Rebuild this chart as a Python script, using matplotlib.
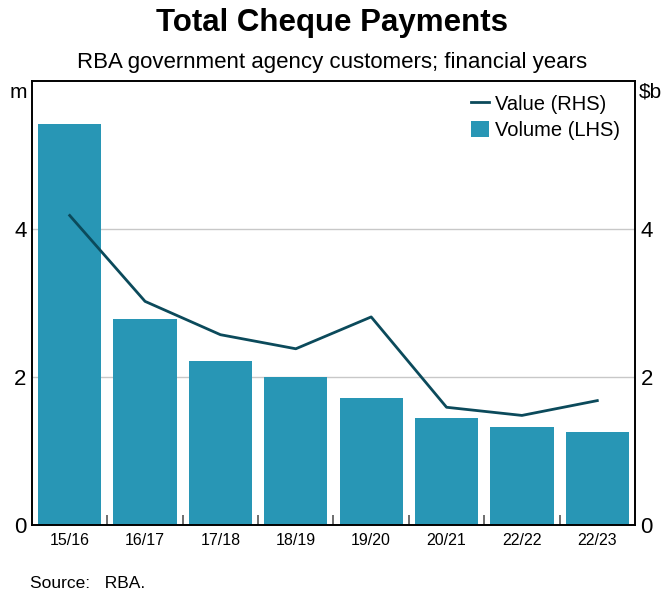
import matplotlib

matplotlib.use("Agg")
import matplotlib.pyplot as plt
from matplotlib.lines import Line2D
from matplotlib.patches import Patch

plt.rcParams["font.family"] = ["Liberation Sans", "DejaVu Sans"]

# data
years = ["15/16", "16/17", "17/18", "18/19", "19/20", "20/21", "22/22", "22/23"]
volume_m = [5.41, 2.78, 2.22, 2.00, 1.72, 1.45, 1.32, 1.26]
value_b = [4.18, 3.02, 2.57, 2.38, 2.81, 1.59, 1.48, 1.68]
y_ticks = [0, 2, 4]

bar_color = "#2896B5"
line_color = "#0B4A5B"
grid_color = "#C8C8C8"

fig = plt.figure(figsize=(6.64, 5.95), dpi=100)
ax = fig.add_axes([0.0482, 0.1176, 0.9081, 0.7468])
ax2 = ax.twinx()

x = list(range(len(years)))
ax.bar(x, volume_m, width=0.84, color=bar_color, zorder=2)
ax2.plot(x, value_b, color=line_color, linewidth=2.0, zorder=3)

for a in (ax, ax2):
    a.set_ylim(0, 6)
    a.set_xlim(-0.5, len(years) - 0.5)
    a.set_yticks(y_ticks)
    a.tick_params(axis="y", length=0, labelsize=16, pad=4)
    for side in a.spines.values():
        side.set_linewidth(1.2)

ax.set_axisbelow(True)
ax.yaxis.grid(True, color=grid_color, linewidth=1.0)
ax.set_xticks(x)
ax.set_xticklabels(years)
ax.tick_params(axis="x", which="major", length=0, labelsize=11.5, pad=6)
ax.set_xticks([i + 0.5 for i in x[:-1]], minor=True)
ax.tick_params(axis="x", which="minor", direction="in", length=7.5, width=1.2,
               color="#555555")

fig.text(0.5, 0.961, "Total Cheque Payments", ha="center", va="center",
         fontsize=22.5, fontweight="bold")
fig.text(0.5, 0.895, "RBA government agency customers; financial years",
         ha="center", va="center", fontsize=16)
fig.text(0.028, 0.845, "m", ha="center", va="center", fontsize=15)
fig.text(0.979, 0.845, "$b", ha="center", va="center", fontsize=15)
fig.text(0.045, 0.007, "Source:   RBA.", ha="left", va="bottom", fontsize=12.5)

handles = [
    Line2D([], [], color=line_color, linewidth=2.0),
    Patch(facecolor=bar_color, edgecolor="none"),
]
ax2.legend(handles, ["Value (RHS)", "Volume (LHS)"], loc="upper right",
           bbox_to_anchor=(0.946, 0.855), bbox_transform=fig.transFigure,
           frameon=False, fontsize=14.5, handlelength=0.9, handleheight=0.9,
           handletextpad=0.3, labelspacing=0.35, borderaxespad=0)

fig.savefig("out.png", dpi=100)
